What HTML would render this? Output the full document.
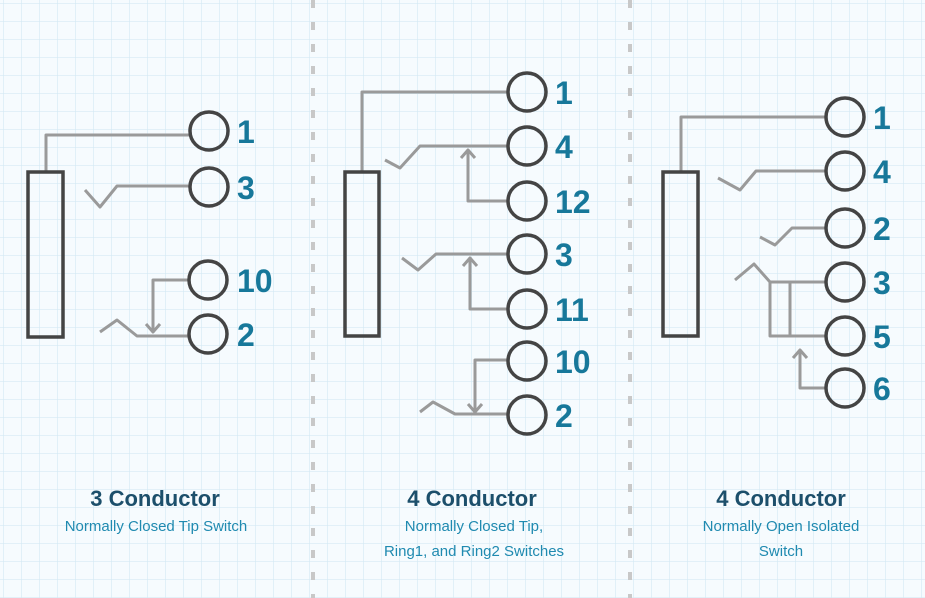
<!DOCTYPE html>
<html><head><meta charset="utf-8"><style>
html,body{margin:0;padding:0;width:925px;height:598px;overflow:hidden;background:#f6fbfe}
svg{display:block}
.t{font-family:"Liberation Sans",sans-serif;font-weight:bold;fill:#1c4f6b;font-size:22px;text-anchor:middle}
.s{font-family:"Liberation Sans",sans-serif;fill:#1f8ab0;font-size:15px;text-anchor:middle}
.n{font-family:"Liberation Sans",sans-serif;font-weight:bold;fill:#17789a;font-size:32px}
</style></head><body>
<svg width="925" height="598" viewBox="0 0 925 598" xmlns="http://www.w3.org/2000/svg">
<defs>
<pattern id="g" width="18" height="18" patternUnits="userSpaceOnUse" x="4" y="4">
<path d="M18 0V18M0 18H18" fill="none" stroke="#d5e9f4" stroke-width="1.3"/>
</pattern>
</defs>
<rect width="925" height="598" fill="url(#g)"/>
<line x1="313" y1="0" x2="313" y2="598" stroke="#c8c8c8" stroke-width="4" stroke-dasharray="8,14"/>
<line x1="630" y1="0" x2="630" y2="598" stroke="#c8c8c8" stroke-width="4" stroke-dasharray="8,14"/>

<g fill="none" stroke="#9a9a9a" stroke-width="3" stroke-linejoin="round">
<path d="M46 171V135H190"/>
<path d="M85 190L100 207L117 186H190"/>
<path d="M190 280H153V332M146 324L153 332L160 324"/>
<path d="M100 332L117 320L137 336H190"/>
<path d="M362 172V92H508"/>
<path d="M385 160L400 168L420 146H508"/>
<path d="M508 201H468V150M461 158L468 150L475 158"/>
<path d="M402 258L418 270L436 254H508"/>
<path d="M508 309H470V258M463 266L470 258L477 266"/>
<path d="M508 360H475V412M468 404L475 412L482 404"/>
<path d="M420 412L433 402L455 414H508"/>
<path d="M681 171V117H826"/>
<path d="M718 178L740 190L756 171H826"/>
<path d="M760 237L775 245L792 228H826"/>
<path d="M735 280L754 264L770 282H826"/>
<path d="M770 282V336H826M790 282V336"/>
<path d="M826 388H800V350M793 358L800 350L807 358"/>
</g>

<g fill="none" stroke="#444" stroke-width="3.5">
<rect x="28" y="172" width="35" height="165"/>
<rect x="345" y="172" width="34" height="164"/>
<rect x="663" y="172" width="35" height="164"/>
<circle cx="209" cy="131" r="19"/><circle cx="209" cy="187" r="19"/>
<circle cx="208" cy="280" r="19"/><circle cx="208" cy="334" r="19"/>
<circle cx="527" cy="92" r="19"/><circle cx="527" cy="146" r="19"/>
<circle cx="527" cy="201" r="19"/><circle cx="527" cy="254" r="19"/>
<circle cx="527" cy="309" r="19"/><circle cx="527" cy="361" r="19"/>
<circle cx="527" cy="415" r="19"/>
<circle cx="845" cy="117" r="19"/><circle cx="845" cy="171" r="19"/>
<circle cx="845" cy="228" r="19"/><circle cx="845" cy="282" r="19"/>
<circle cx="845" cy="336" r="19"/><circle cx="845" cy="388" r="19"/>
</g>

<g class="n">
<text x="237" y="143">1</text><text x="237" y="199">3</text>
<text x="237" y="292">10</text><text x="237" y="346">2</text>
<text x="555" y="104">1</text><text x="555" y="158">4</text>
<text x="555" y="213">12</text><text x="555" y="266">3</text>
<text x="555" y="321">11</text><text x="555" y="373">10</text>
<text x="555" y="427">2</text>
<text x="873" y="129">1</text><text x="873" y="183">4</text>
<text x="873" y="240">2</text><text x="873" y="294">3</text>
<text x="873" y="348">5</text><text x="873" y="400">6</text>
</g>

<text class="t" x="155" y="506">3 Conductor</text>
<text class="s" x="156" y="531">Normally Closed Tip Switch</text>
<text class="t" x="472" y="506">4 Conductor</text>
<text class="s" x="474" y="531">Normally Closed Tip,</text>
<text class="s" x="474" y="556">Ring1, and Ring2 Switches</text>
<text class="t" x="781" y="506">4 Conductor</text>
<text class="s" x="781" y="531">Normally Open Isolated</text>
<text class="s" x="781" y="556">Switch</text>
</svg>
</body></html>
